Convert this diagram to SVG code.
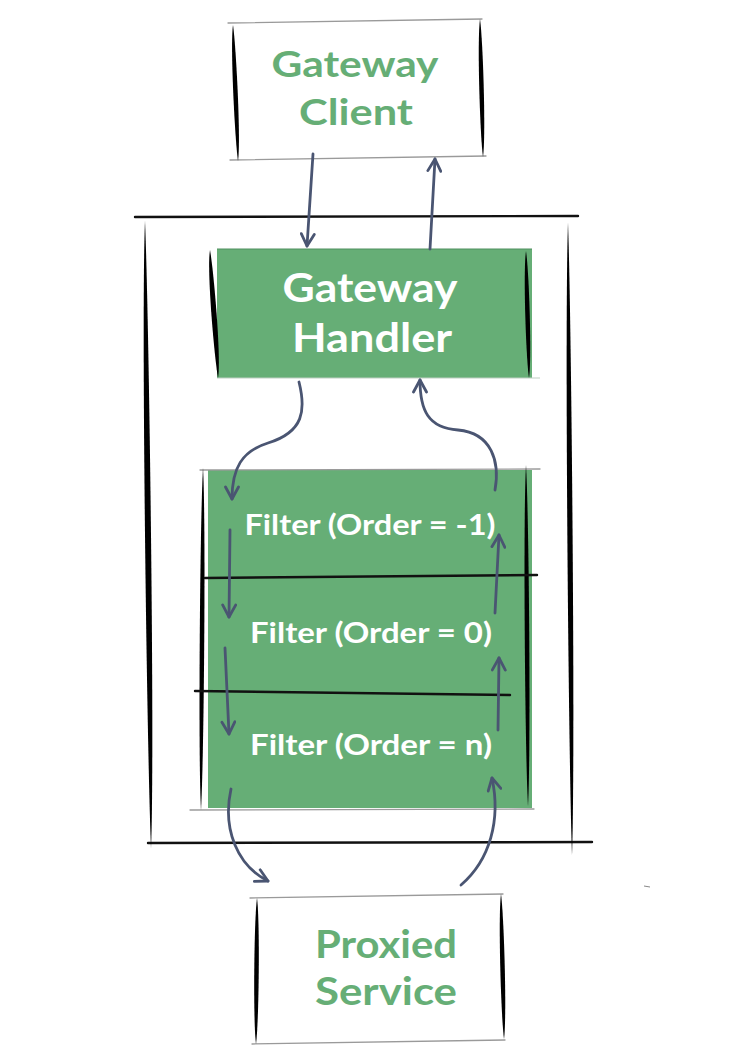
<svg xmlns="http://www.w3.org/2000/svg" width="745" height="1049" viewBox="0 0 745 1049">
<style>
.thin{stroke:#9a9a9a;stroke-width:1.3;fill:none;stroke-linecap:round}
.edge{stroke:#111;stroke-width:2.4;fill:none;stroke-linecap:round}
.ink{fill:#000}
.gfill{fill:#66AE76}
.gtxt{font-family:Lato,"Open Sans","Liberation Sans",sans-serif;font-weight:700;fill:#66AE76;text-anchor:middle}
.wtxt{font-family:Lato,"Open Sans","Liberation Sans",sans-serif;font-weight:700;fill:#fff;text-anchor:middle}
.conn{stroke:#4A5572;stroke-width:2.8;fill:none;stroke-linecap:round}
</style>
<defs>
<marker id="ah" viewBox="0 0 16 16" refX="14" refY="8" markerWidth="16" markerHeight="16" markerUnits="userSpaceOnUse" orient="auto">
<path d="M2,1.5 L14,8 L2,14.5" fill="none" stroke="#4A5572" stroke-width="2.8" stroke-linecap="round" stroke-linejoin="round"/>
</marker>
</defs>
<rect width="745" height="1049" fill="#fff"/>

<g id="client">
<rect x="234" y="21" width="248" height="137" fill="#fff"/>
<line class="thin" x1="228" y1="23" x2="482" y2="19"/>
<line class="thin" x1="230" y1="160" x2="486" y2="156"/>
<path class="ink" d="M233,25 C236,45 241,141 238,161 C235,141 230,45 233,25 Z"/>
<path class="ink" d="M480,19 C483,40 486,136 483,157 C480,136 477,40 480,19 Z"/>
<text class="gtxt" x="355" y="77" font-size="37" textLength="167" lengthAdjust="spacingAndGlyphs">Gateway</text>
<text class="gtxt" x="356" y="125" font-size="37" textLength="114" lengthAdjust="spacingAndGlyphs">Client</text>
</g>

<g id="container">
<line class="edge" x1="135" y1="217" x2="578" y2="216"/>
<line class="edge" x1="148" y1="843" x2="592" y2="842"/>
<path class="ink" d="M145,221 C149,315 155,754 151,848 C147,754 141,315 145,221 Z"/>
<path class="ink" d="M568,223 C571.5,318 575.5,760 572,855 C568.5,760 564.5,318 568,223 Z"/>
</g>

<g id="handler">
<rect class="gfill" x="217" y="249" width="315" height="129"/>
<line x1="217" y1="249" x2="532" y2="249" stroke="#4f8f5e" stroke-width="1"/>
<line x1="217" y1="378" x2="540" y2="378" stroke="#bfcfc3" stroke-width="1"/>
<path class="ink" d="M210,250 C213.5,269 221.5,359 218,378 C214.5,359 206.5,269 210,250 Z"/>
<path class="ink" d="M526,251 C529,270 532,359 529,378 C526,359 523,270 526,251 Z"/>
<text class="wtxt" x="370" y="302" font-size="41" textLength="175" lengthAdjust="spacingAndGlyphs">Gateway</text>
<text class="wtxt" x="372" y="352" font-size="41" textLength="160" lengthAdjust="spacingAndGlyphs">Handler</text>
</g>

<g id="filters">
<rect class="gfill" x="208" y="470" width="324" height="338"/>
<line class="thin" x1="200" y1="470" x2="540" y2="469"/>
<line class="thin" x1="190" y1="810" x2="534" y2="809"/>
<path class="ink" d="M203,468 C206,519 204,759 201,810 C198,759 200,519 203,468 Z"/>
<path class="ink" d="M526,465 C529,516 531,755 528,806 C525,755 523,516 526,465 Z"/>
<g id="filter-m1">
<text class="wtxt" x="370" y="535" font-size="28" textLength="251" lengthAdjust="spacingAndGlyphs">Filter (Order = -1)</text>
</g>
<line class="edge" x1="205" y1="578" x2="537" y2="575"/>
<g id="filter-0">
<text class="wtxt" x="371" y="643" font-size="28" textLength="242" lengthAdjust="spacingAndGlyphs">Filter (Order = 0)</text>
</g>
<line class="edge" x1="195" y1="691" x2="510" y2="695"/>
<g id="filter-n">
<text class="wtxt" x="371" y="755" font-size="28" textLength="242" lengthAdjust="spacingAndGlyphs">Filter (Order = n)</text>
</g>
</g>

<g id="proxied">
<rect x="255" y="898" width="248" height="145" fill="#fff"/>
<line class="thin" x1="250" y1="898" x2="503" y2="894"/>
<line class="thin" x1="252" y1="1044" x2="505" y2="1040"/>
<path class="ink" d="M257,898 C260,920 259,1022 256,1044 C253,1022 254,920 257,898 Z"/>
<path class="ink" d="M501,894 C504,916 507,1017 504,1039 C501,1017 498,916 501,894 Z"/>
<text class="gtxt" x="386" y="958" font-size="39" textLength="142" lengthAdjust="spacingAndGlyphs">Proxied</text>
<text class="gtxt" x="386" y="1005" font-size="39" textLength="142" lengthAdjust="spacingAndGlyphs">Service</text>
</g>

<line x1="644" y1="886" x2="650" y2="887" stroke="#888" stroke-width="1"/>

<g id="connectors">
<path class="conn" d="M313,154 L307,246" marker-end="url(#ah)"/>
<path class="conn" d="M430,249 L435,159" marker-end="url(#ah)"/>
<path class="conn" d="M299,382 C306,410 304,432 268,443 C242,451 232,468 232,499" marker-end="url(#ah)"/>
<path class="conn" d="M495,490 C500,462 492,433 458,430 C428,428 420,410 420,380" marker-end="url(#ah)"/>
<path class="conn" d="M230,530 L229,617" marker-end="url(#ah)"/>
<path class="conn" d="M225,648 L229,734" marker-end="url(#ah)"/>
<path class="conn" d="M495,613 L499,535" marker-end="url(#ah)"/>
<path class="conn" d="M498,730 L499,658" marker-end="url(#ah)"/>
<path class="conn" d="M231,789 C222,830 238,866 268,881" marker-end="url(#ah)"/>
<path class="conn" d="M461,885 C490,860 501,820 492,778" marker-end="url(#ah)"/>
</g>
</svg>
